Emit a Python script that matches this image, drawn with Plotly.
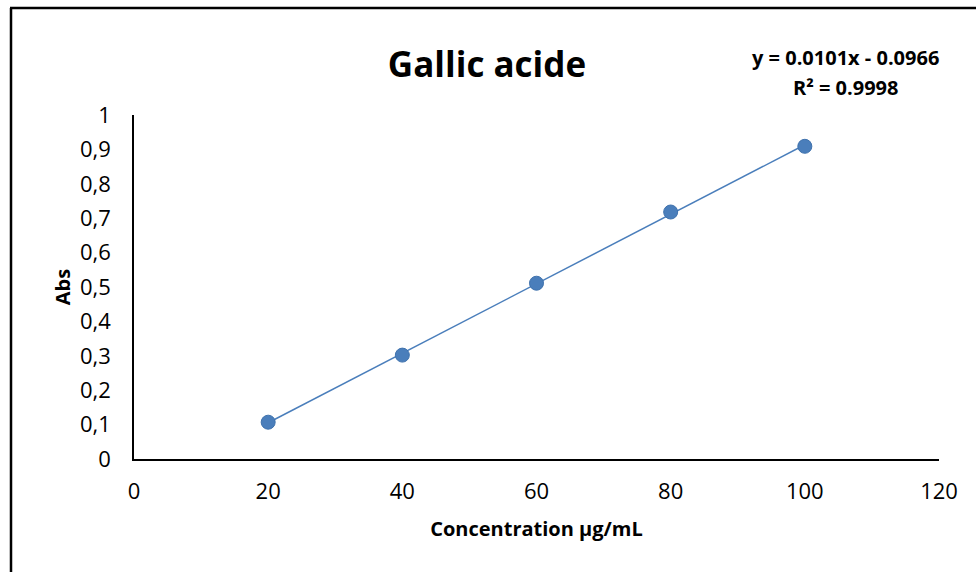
import plotly.graph_objects as go

# Data
concentration = [20, 40, 60, 80, 100]
absorbance = [0.107, 0.302, 0.511, 0.718, 0.909]
trend_slope = 0.0101
trend_intercept = -0.0966
r_squared = 0.9998
title_text = "Gallic acide"
x_title = "Concentration µg/mL"
y_title = "Abs"

W, H = 976, 572
ML, MR, MT, MB = 134, 37, 115, 113
PW = W - ML - MR
PH = H - MT - MB

def px_to_paper_x(px):
    return (px - ML) / PW

def px_to_paper_y(py):
    return (H - MB - py) / PH

blue = "#4a7ebb"
font_family = "Open Sans, Lato, sans-serif"

trend_x = [min(concentration), max(concentration)]
trend_y = [trend_slope * x + trend_intercept for x in trend_x]

fig = go.Figure()
fig.add_trace(go.Scatter(
    x=trend_x, y=trend_y, mode="lines",
    line=dict(color=blue, width=1.5), hoverinfo="skip", showlegend=False,
))
fig.add_trace(go.Scatter(
    x=concentration, y=absorbance, mode="markers",
    marker=dict(color=blue, size=14, line=dict(color="#3f72ad", width=1)),
    showlegend=False,
))

eq_line1 = f"<b>y = {trend_slope:.4f}x - {abs(trend_intercept):.4f}</b>"
eq_line2 = f"<b>R² = {r_squared:.4f}</b>"

fig.update_layout(
    width=W, height=H,
    margin=dict(l=ML, r=MR, t=MT, b=MB, pad=0),
    paper_bgcolor="white", plot_bgcolor="white",
    separators=", ",
    font=dict(family=font_family, color="black", size=22),
    title=dict(text=f"<b>{title_text}</b>", x=px_to_paper_x(487), xref="paper",
               xanchor="center", y=1 - 65 / H, yanchor="middle",
               font=dict(size=35, family=font_family, color="black")),
    xaxis=dict(range=[0, 120], dtick=20, tick0=0, showgrid=False, zeroline=False,
               showline=True, linecolor="black", linewidth=1.5, ticks="",
               ticklabelstandoff=12,
               tickfont=dict(size=22),
               title=dict(text=f"<b>{x_title}</b>", font=dict(size=20), standoff=18)),
    yaxis=dict(range=[0, 1], dtick=0.1, tick0=0, showgrid=False, zeroline=False,
               showline=True, linecolor="black", linewidth=1.5, ticks="",
               ticklabelstandoff=17,
               tickfont=dict(size=22),
               title=dict(text=f"<b>{y_title}</b>", font=dict(size=20), standoff=4)),
    annotations=[
        dict(text=eq_line1, xref="paper", yref="paper",
             x=px_to_paper_x(845), y=px_to_paper_y(58), xanchor="center", yanchor="middle",
             showarrow=False, font=dict(size=20, family=font_family)),
        dict(text=eq_line2, xref="paper", yref="paper",
             x=px_to_paper_x(846), y=px_to_paper_y(87), xanchor="center", yanchor="middle",
             showarrow=False, font=dict(size=20, family=font_family)),
    ],
    shapes=[
        dict(type="line", xref="paper", yref="paper",
             x0=px_to_paper_x(11), x1=px_to_paper_x(11),
             y0=px_to_paper_y(8), y1=px_to_paper_y(H + 5),
             line=dict(color="black", width=2.5)),
        dict(type="line", xref="paper", yref="paper",
             x0=px_to_paper_x(10), x1=px_to_paper_x(W + 5),
             y0=px_to_paper_y(8), y1=px_to_paper_y(8),
             line=dict(color="black", width=2.5)),
    ],
)

fig.write_html("out.html")
